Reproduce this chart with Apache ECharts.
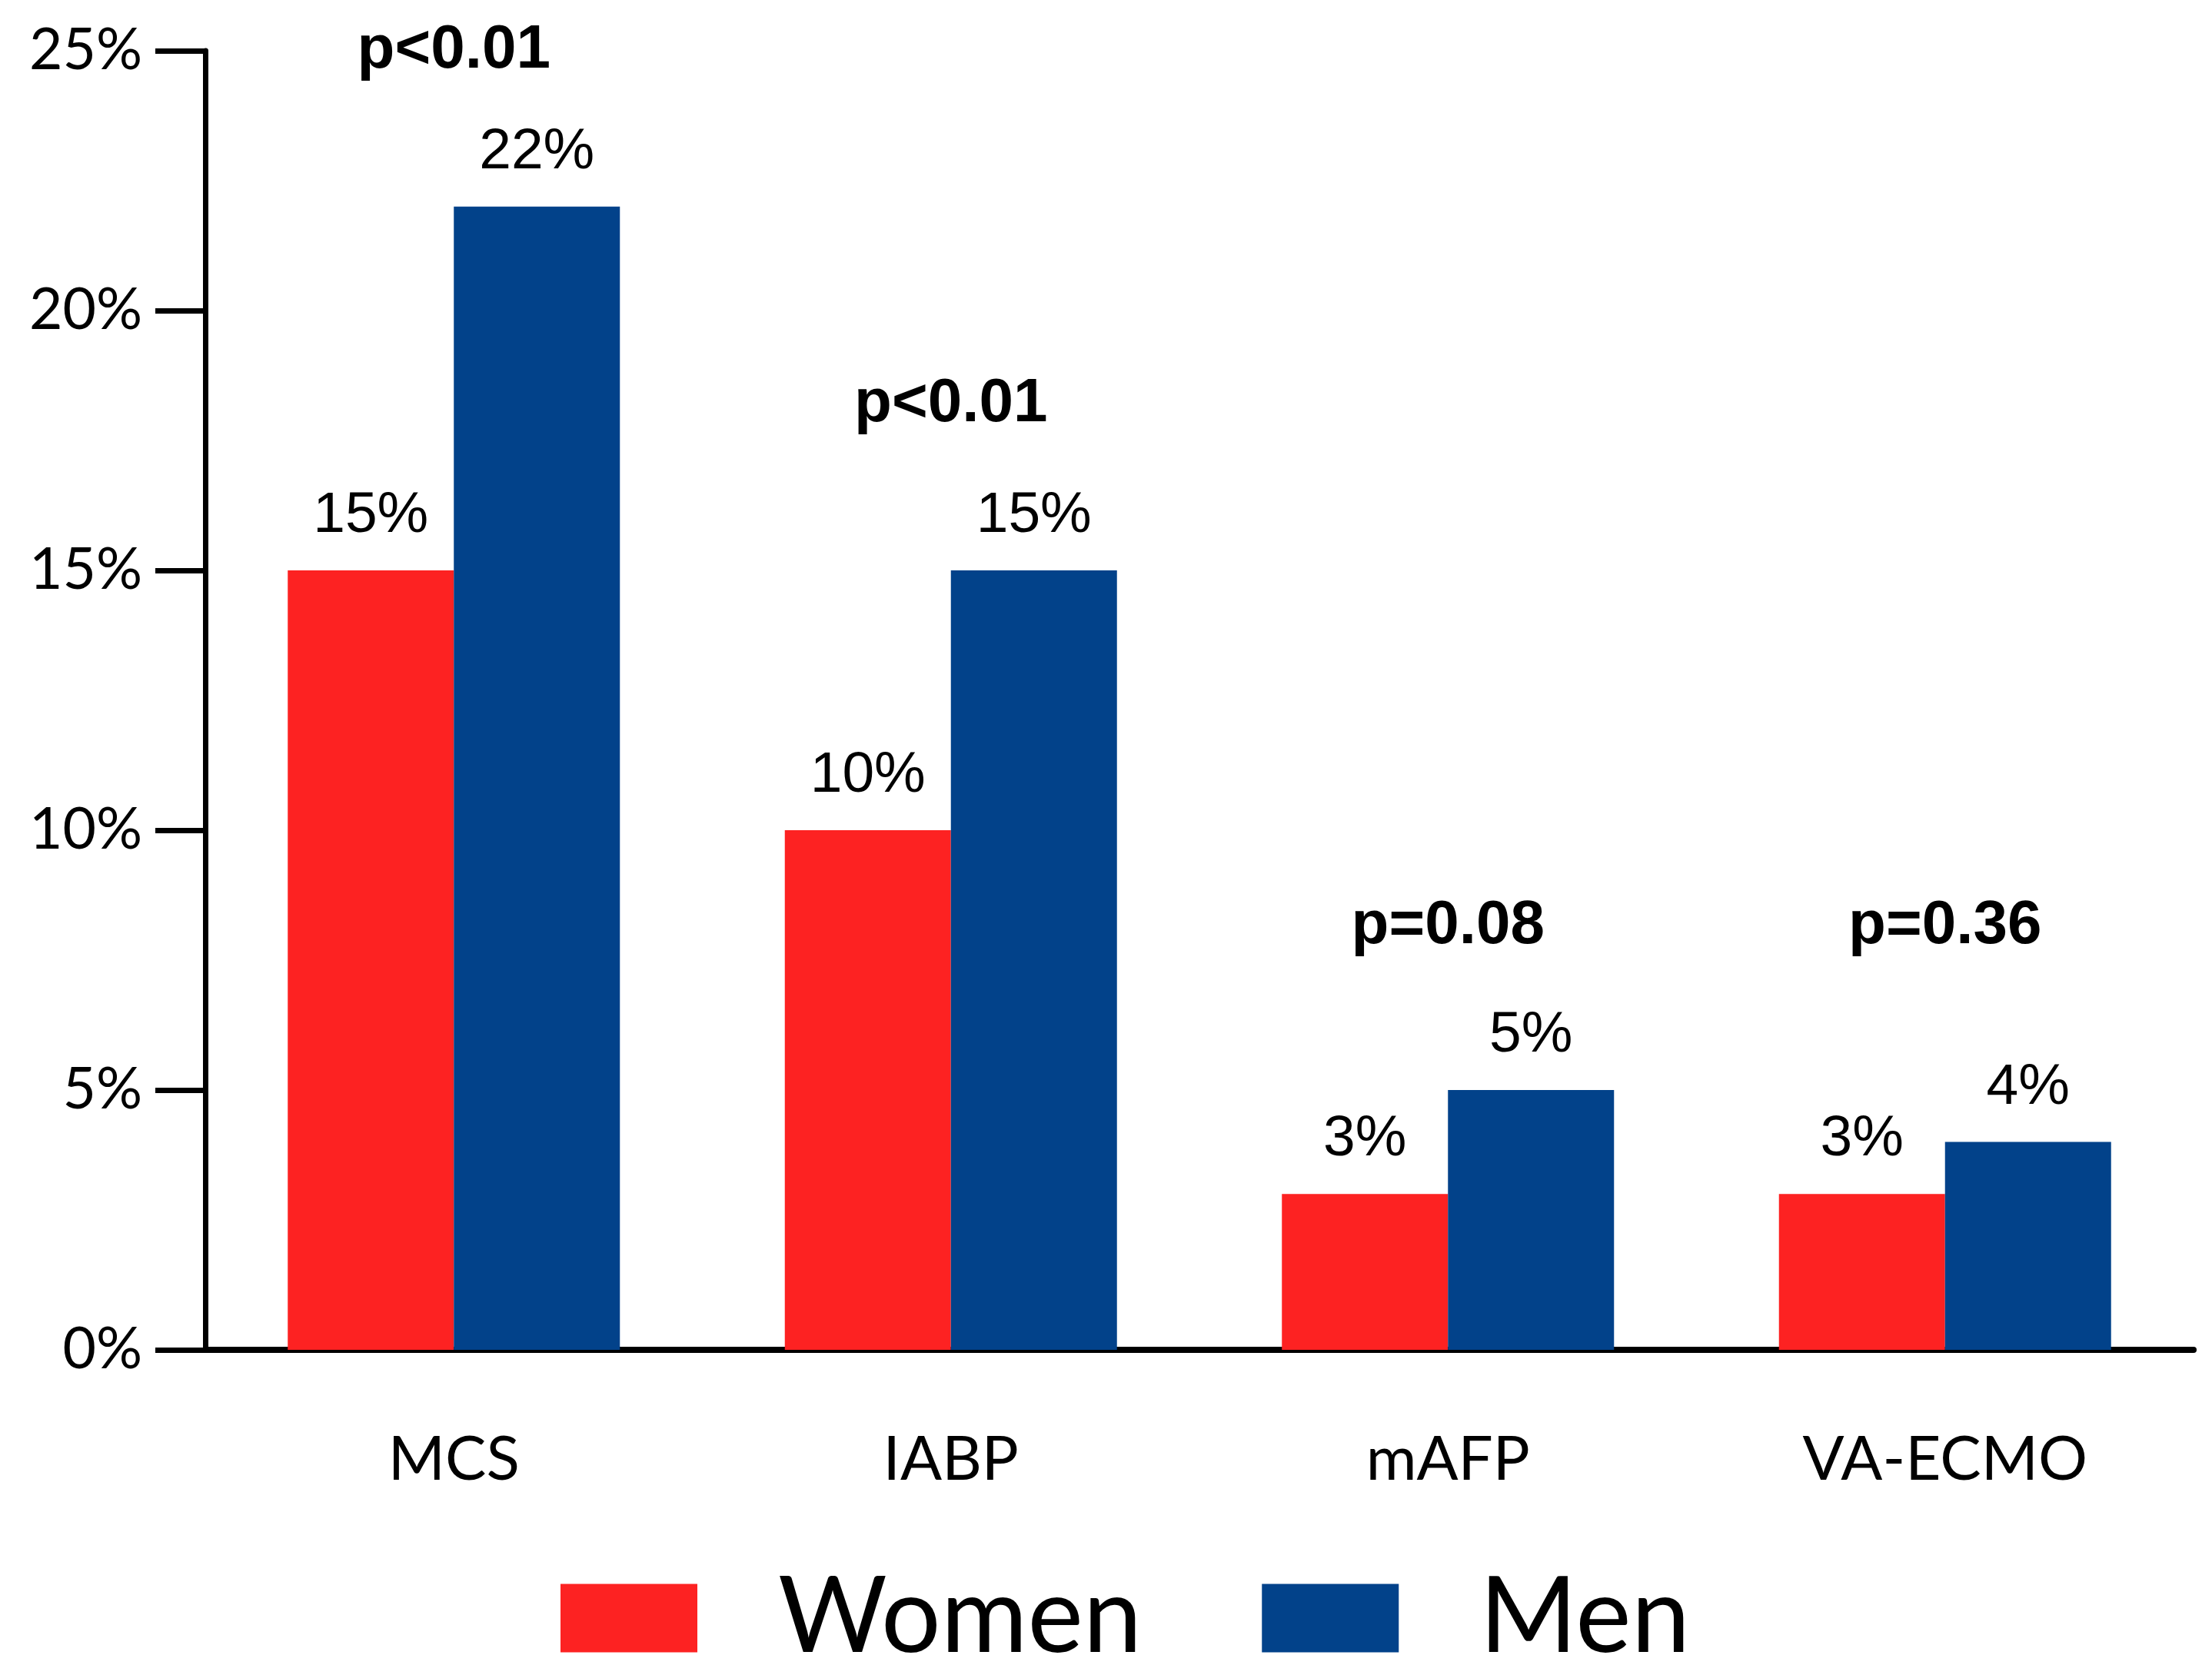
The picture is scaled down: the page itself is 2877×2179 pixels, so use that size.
<!DOCTYPE html>
<html>
<head>
<meta charset="utf-8">
<script src="https://cdn.jsdelivr.net/npm/echarts@6/dist/echarts.min.js"></script>
<style>
  html, body { margin: 0; padding: 0; background: #fff; }
  #bar-chart { width: 2877px; height: 2179px; }
</style>
</head>
<body>
<div id="bar-chart"></div>
<script>
// data
var categories = ['MCS', 'IABP', 'mAFP', 'VA-ECMO'];
var women = [15, 10, 3, 3];
var men = [22, 15, 5, 4];
var pLabels = ['p<0.01', 'p<0.01', 'p=0.08', 'p=0.36'];
var pLabelY = [25, 18.2, 8.15, 8.15];
var yTicks = [0, 5, 10, 15, 20, 25];

LoadBarChart();

function LoadBarChart() {
    var BarChart = echarts.init(document.getElementById('bar-chart'));

    var pData = categories.map(function (c, i) {
        return { value: [c, pLabelY[i]], name: pLabels[i] };
    });

    var option = {
        animation: false,
        backgroundColor: '#ffffff',
        grid: {
            left: 267,
            right: 24,
            top: 66,
            bottom: 423,
            containLabel: false
        },
        legend: {
            data: ['Women', 'Men'],
            left: 724,
            top: 2030,
            icon: 'rect',
            itemWidth: 178,
            itemHeight: 89,
            itemGap: 156,
            textStyle: {
                fontFamily: 'Lato',
                fontSize: 137,
                lineHeight: 140,
                color: '#000',
                padding: [0, 0, 0, 100]
            }
        },
        xAxis: {
            type: 'category',
            data: categories,
            axisLine: { lineStyle: { color: '#000', width: 8 } },
            axisTick: {
                alignWithLabel: true,
                length: 62,
                lineStyle: { color: '#000', width: 5 }
            },
            axisLabel: {
                margin: 103,
                fontFamily: 'Lato',
                fontSize: 80,
                color: '#000'
            },
            splitLine: { show: false }
        },
        yAxis: {
            type: 'value',
            min: yTicks[0],
            max: yTicks[yTicks.length - 1],
            interval: 5,
            axisLine: { show: true, lineStyle: { color: '#000', width: 7 } },
            axisTick: { show: true, length: 65, lineStyle: { color: '#000', width: 7 } },
            axisLabel: {
                margin: 82,
                fontFamily: 'Lato',
                fontSize: 75,
                color: '#000',
                formatter: '{value}%'
            },
            splitLine: { show: false }
        },
        series: [
            {
                name: 'Women',
                type: 'bar',
                data: women,
                barWidth: 216,
                barGap: '0%',
                itemStyle: { color: '#fd2222' },
                label: {
                    show: true,
                    position: 'top',
                    distance: 33,
                    fontFamily: 'Liberation Sans',
                    fontSize: 75,
                    color: '#000',
                    formatter: '{c}%'
                }
            },
            {
                name: 'Men',
                type: 'bar',
                data: men,
                barWidth: 216,
                barGap: '0%',
                itemStyle: { color: '#02428a' },
                label: {
                    show: true,
                    position: 'top',
                    distance: 33,
                    fontFamily: 'Liberation Sans',
                    fontSize: 75,
                    color: '#000',
                    formatter: '{c}%'
                }
            },
            {
                name: 'p',
                type: 'scatter',
                data: pData,
                symbolSize: 1,
                itemStyle: { color: '#000', opacity: 0 },
                label: {
                    show: true,
                    position: 'inside',
                    opacity: 1,
                    textBorderWidth: 0,
                    fontFamily: 'Liberation Sans',
                    fontWeight: 'bold',
                    fontSize: 80,
                    color: '#000',
                    formatter: function (p) {
                        return p.name;
                    }
                }
            }
        ]
    };
    BarChart.setOption(option);
}
</script>
</body>
</html>
